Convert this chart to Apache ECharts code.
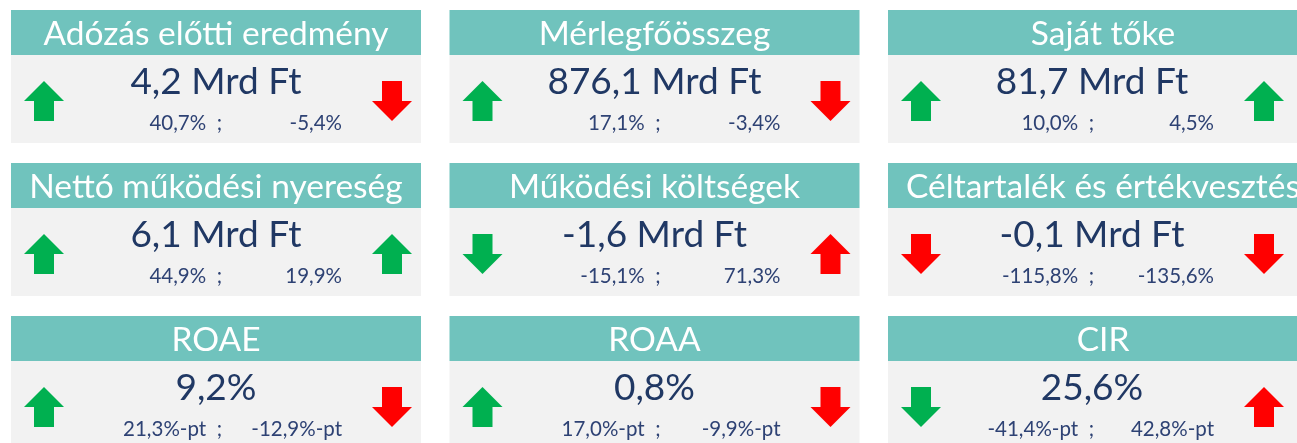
<!DOCTYPE html>
<html>
<head>
<meta charset="utf-8">
<script src="https://cdn.jsdelivr.net/npm/echarts@6/dist/echarts.min.js"></script>
<style>
  html, body { margin: 0; padding: 0; background: #ffffff; }
  #kpiChart { width: 1297px; height: 443px; }
</style>
</head>
<body>
<div id="kpiChart"></div>
<script>
// tile grid: 3 columns x 3 rows (column index, row index)
let titles = [
    'Adózás előtti eredmény', 'Mérlegfőösszeg', 'Saját tőke',
    'Nettó működési nyereség', 'Működési költségek', 'Céltartalék és értékvesztés',
    'ROAE', 'ROAA', 'CIR'
];
let mainValues = [4.2, 876.1, 81.7, 6.1, -1.6, -0.1, 9.2, 0.8, 25.6];
let mainUnits = [' Mrd Ft', ' Mrd Ft', ' Mrd Ft', ' Mrd Ft', ' Mrd Ft', ' Mrd Ft', '%', '%', '%'];
let change1 = [40.7, 17.1, 10.0, 44.9, -15.1, -115.8, 21.3, 17.0, -41.4];
let change2 = [-5.4, -3.4, 4.5, 19.9, 71.3, -135.6, -12.9, -9.9, 42.8];
let changeUnits = ['%', '%', '%', '%', '%', '%', '%-pt', '%-pt', '%-pt'];
// 1 = favourable (green), 0 = unfavourable (red)
let good1 = [1, 1, 1, 1, 1, 0, 1, 1, 1];
let good2 = [0, 0, 1, 1, 0, 0, 0, 0, 0];

let tileData = [];
for (let i = 0; i < titles.length; i++) {
    tileData.push([i % 3, Math.floor(i / 3), i]);
}

function fmt(v) {
    return v.toFixed(1).replace('.', ',');
}

function arrowPoints(ax, ay, up) {
    let s = up ? 1 : -1;
    return [
        [ax, ay - 20 * s], [ax + 20, ay], [ax + 10, ay], [ax + 10, ay + 20 * s],
        [ax - 10, ay + 20 * s], [ax - 10, ay], [ax - 20, ay]
    ];
}

// small per-column nudges seen in the original sheet
let headerShift = [0, 0, 10];
let bodyShift = [0, 0, -5];

let kpiChart = echarts.init(document.getElementById('kpiChart'));
let kpiChartOption = {
    backgroundColor: '#ffffff',
    animation: false,
    grid: {
        left: 0,
        right: 0,
        top: 0,
        bottom: 0
    },
    // one unit = one tile slot (438.5 x 153 px); third column runs off the right edge
    xAxis: {
        type: 'value',
        min: -216 / 438.5,
        max: -216 / 438.5 + 1297 / 438.5,
        show: false
    },
    yAxis: {
        type: 'value',
        inverse: true,
        min: -0.5,
        max: -0.5 + 443 / 153,
        show: false
    },
    series: [{
        type: 'custom',
        clip: false,
        data: tileData,
        renderItem: function (params, api) {
            let col = api.value(0);
            let i = api.value(2);
            let c = api.coord([col, api.value(1)]);
            let band = api.size([1, 1]);
            let w = band[0] - 28.5;
            let h = band[1] - 20;
            let x0 = c[0] - w / 2;
            let y0 = c[1] - h / 2;
            let headH = 45;
            let navy = '#203864';
            let green = '#00b050';
            let red = '#ff0000';
            let bs = bodyShift[col];
            return {
                type: 'group',
                children: [{
                    type: 'rect',
                    shape: { x: x0, y: y0, width: w, height: headH },
                    style: { fill: '#70c3bd' }
                }, {
                    type: 'rect',
                    shape: { x: x0, y: y0 + headH, width: w, height: h - headH },
                    style: { fill: '#f2f2f2' }
                }, {
                    type: 'text',
                    style: {
                        text: titles[i],
                        x: c[0] + headerShift[col],
                        y: y0 + 24,
                        fill: '#ffffff',
                        font: '33.5px Lato',
                        align: 'center',
                        verticalAlign: 'middle'
                    }
                }, {
                    type: 'text',
                    style: {
                        text: fmt(mainValues[i]) + mainUnits[i],
                        x: c[0] - (col === 2 ? 1 : 0),
                        y: y0 + 72,
                        fill: navy,
                        font: '37px Lato',
                        align: 'center',
                        verticalAlign: 'middle'
                    }
                }, {
                    type: 'text',
                    style: {
                        text: fmt(change1[i]) + changeUnits[i] + '  ;',
                        x: x0 + 211 + bs,
                        y: y0 + 113,
                        fill: '#2e4274',
                        font: '20.5px Lato',
                        align: 'right',
                        verticalAlign: 'middle'
                    }
                }, {
                    type: 'text',
                    style: {
                        text: fmt(change2[i]) + changeUnits[i],
                        x: x0 + 331 + bs,
                        y: y0 + 113,
                        fill: '#2e4274',
                        font: '20.5px Lato',
                        align: 'right',
                        verticalAlign: 'middle'
                    }
                }, {
                    type: 'polygon',
                    shape: { points: arrowPoints(x0 + 33, y0 + 91, change1[i] >= 0) },
                    style: { fill: good1[i] ? green : red }
                }, {
                    type: 'polygon',
                    shape: { points: arrowPoints(x0 + 381 + bs, y0 + 91, change2[i] >= 0) },
                    style: { fill: good2[i] ? green : red }
                }]
            };
        }
    }]
};
kpiChart.setOption(kpiChartOption);
</script>
</body>
</html>
